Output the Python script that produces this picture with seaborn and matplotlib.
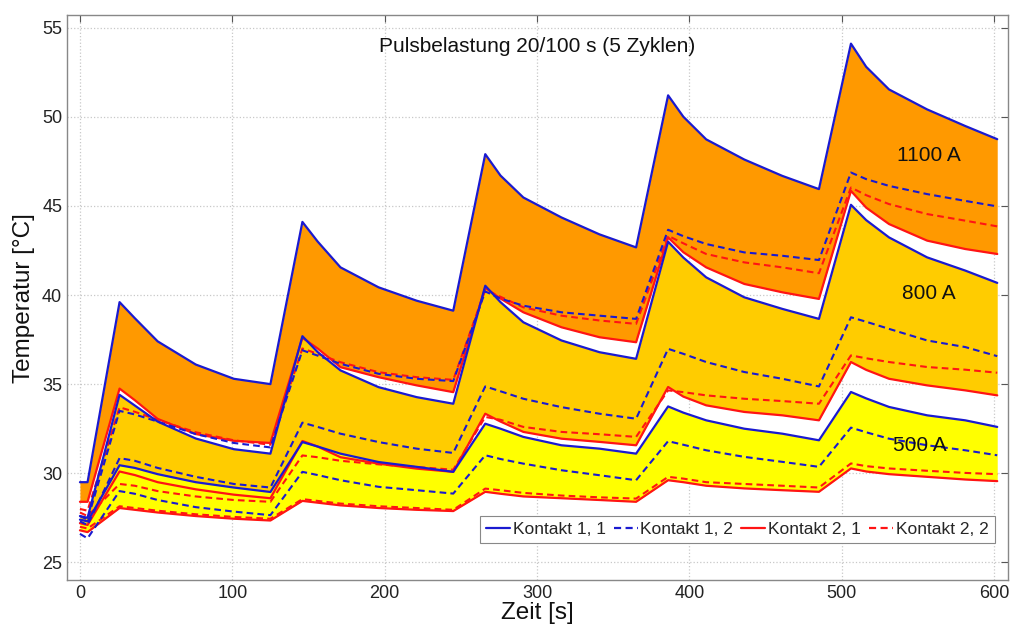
import matplotlib
matplotlib.use("Agg")
import matplotlib.pyplot as plt
import seaborn as sns
from matplotlib.lines import Line2D

# time axis [s]
t = [0, 5, 26, 36, 51, 76, 101, 125, 146, 156, 171, 196, 221, 245, 266, 276, 291, 316,
     341, 365, 386, 396, 411, 436, 461, 485, 506, 516, 531, 556, 581, 602]

# 1100 A
k11_1100 = [29.5, 29.5, 39.6, 38.7, 37.4, 36.1, 35.3, 35.0, 44.1, 43.0, 41.55, 40.43, 39.68, 39.12,
            47.9, 46.7, 45.47, 44.35, 43.4, 42.67, 51.2, 50.0, 48.73, 47.6, 46.68, 45.94,
            54.1, 52.8, 51.53, 50.41, 49.48, 48.74]
k12_1100 = [27.6, 27.4, 33.5, 33.3, 32.9, 32.2, 31.7, 31.45, 36.9, 36.6, 36.14, 35.58, 35.3, 35.17,
            40.2, 39.8, 39.4, 39.03, 38.84, 38.66, 43.66, 43.3, 42.86, 42.39, 42.2, 41.96,
            46.87, 46.5, 46.12, 45.66, 45.28, 44.97]
k22_1100 = [28.0, 27.9, 33.7, 33.45, 33.0, 32.3, 31.85, 31.6, 37.0, 36.7, 36.23, 35.67, 35.39, 35.24,
            40.3, 39.9, 39.31, 38.84, 38.57, 38.38, 43.32, 42.9, 42.3, 41.83, 41.55, 41.22,
            46.03, 45.6, 45.1, 44.54, 44.17, 43.85]
k21_1100 = [28.4, 28.4, 34.75, 34.1, 33.05, 32.2, 31.82, 31.7, 37.6, 37.0, 35.95, 35.39, 34.93, 34.55,
            40.4, 39.8, 39.03, 38.19, 37.63, 37.35, 43.23, 42.4, 41.55, 40.62, 40.15, 39.78,
            45.84, 44.9, 43.98, 43.05, 42.58, 42.3]

# 800 A
k11_800 = [27.6, 27.5, 34.4, 33.8, 32.9, 31.95, 31.35, 31.1, 37.69, 36.8, 35.77, 34.83, 34.27, 33.9,
           40.52, 39.6, 38.47, 37.45, 36.79, 36.42, 42.99, 42.1, 40.99, 39.87, 39.22, 38.66,
           45.06, 44.2, 43.23, 42.11, 41.37, 40.68]
k12_800 = [27.3, 27.1, 30.85, 30.7, 30.3, 29.8, 29.4, 29.2, 32.84, 32.6, 32.22, 31.75, 31.38, 31.14,
           34.87, 34.6, 34.18, 33.71, 33.34, 33.06, 36.98, 36.7, 36.24, 35.68, 35.3, 34.87,
           38.75, 38.5, 38.1, 37.45, 37.08, 36.57]
k22_800 = [27.8, 27.6, 29.4, 29.3, 29.0, 28.7, 28.5, 28.4, 31.0, 30.9, 30.7, 30.5, 30.35, 30.2,
           33.16, 33.0, 32.6, 32.32, 32.19, 32.04, 34.65, 34.55, 34.37, 34.18, 34.05, 33.9,
           36.61, 36.45, 36.24, 35.96, 35.81, 35.64]
k21_800 = [27.2, 27.1, 30.1, 29.9, 29.5, 29.1, 28.8, 28.6, 31.81, 31.5, 30.9, 30.54, 30.26, 30.08,
           33.34, 32.9, 32.32, 31.94, 31.76, 31.57, 34.84, 34.3, 33.81, 33.44, 33.25, 32.97,
           36.24, 35.8, 35.3, 34.93, 34.65, 34.37]

# 500 A
k11_500 = [27.4, 27.3, 30.45, 30.3, 29.95, 29.5, 29.2, 28.95, 31.75, 31.5, 31.1, 30.63, 30.36, 30.08,
           32.78, 32.5, 32.04, 31.57, 31.38, 31.1, 33.75, 33.4, 32.97, 32.5, 32.22, 31.85,
           34.56, 34.2, 33.72, 33.25, 32.97, 32.6]
k12_500 = [26.6, 26.35, 29.0, 28.85, 28.5, 28.1, 27.85, 27.65, 30.08, 29.9, 29.61, 29.24, 29.05, 28.86,
           31.01, 30.8, 30.54, 30.17, 29.89, 29.61, 31.8, 31.6, 31.29, 30.92, 30.64, 30.36,
           32.56, 32.3, 31.94, 31.57, 31.29, 31.01]
k22_500 = [27.0, 26.9, 28.15, 28.05, 27.9, 27.7, 27.55, 27.45, 28.55, 28.45, 28.3, 28.15, 28.05, 27.95,
           29.14, 29.05, 28.9, 28.75, 28.65, 28.58, 29.8, 29.7, 29.5, 29.4, 29.3, 29.2,
           30.55, 30.4, 30.27, 30.14, 30.02, 29.95]
k21_500 = [26.8, 26.7, 28.05, 27.95, 27.8, 27.6, 27.45, 27.35, 28.45, 28.35, 28.2, 28.05, 27.95, 27.88,
           28.96, 28.85, 28.7, 28.6, 28.5, 28.4, 29.61, 29.5, 29.3, 29.15, 29.05, 28.96,
           30.27, 30.1, 29.95, 29.8, 29.65, 29.56]

band_labels = ["1100 A", "800 A", "500 A"]
legend_labels = ["Kontakt 1, 1", "Kontakt 1, 2", "Kontakt 2, 1", "Kontakt 2, 2"]
title = "Pulsbelastung 20/100 s (5 Zyklen)"
x_ticks = [0, 100, 200, 300, 400, 500, 600]
y_ticks = [25, 30, 35, 40, 45, 50, 55]

sns.set_style("white")
plt.rcParams["font.family"] = ["Liberation Sans", "DejaVu Sans"]

BLUE = "#1a1ad0"
RED = "#ff1414"
DASH = (0, (3.2, 2.0))
fills = ["#ff9900", "#ffcc00", "#ffff00"]

fig = plt.figure(figsize=(10.15, 6.3), dpi=100)
ax = fig.add_axes([0.066, 0.079, 0.927, 0.897])

bands = [
    (k11_1100, k12_1100, k21_1100, k22_1100),
    (k11_800, k12_800, k21_800, k22_800),
    (k11_500, k12_500, k21_500, k22_500),
]

for (a11, a12, a21, a22), fc in zip(bands, fills):
    ax.fill_between(t, a21, a11, color=fc, lw=0, zorder=1)

for (a11, a12, a21, a22) in bands:
    sns.lineplot(x=t, y=a22, ax=ax, color=RED, linestyle=DASH, lw=1.5, sort=False,
                 estimator=None, legend=False, zorder=3)
    sns.lineplot(x=t, y=a21, ax=ax, color=RED, lw=1.6, sort=False,
                 estimator=None, legend=False, zorder=3)
    sns.lineplot(x=t, y=a12, ax=ax, color=BLUE, linestyle=DASH, lw=1.5, sort=False,
                 estimator=None, legend=False, zorder=4)
    sns.lineplot(x=t, y=a11, ax=ax, color=BLUE, lw=1.6, sort=False,
                 estimator=None, legend=False, zorder=4)

ax.set_xlim(-8.5, 609)
ax.set_ylim(24.0, 55.7)
ax.set_xticks(x_ticks)
ax.set_yticks(y_ticks)
ax.grid(True, color="#c8c8c8", linestyle=":", linewidth=0.9)
ax.set_axisbelow(True)
ax.tick_params(direction="in", length=5, width=0.8, colors="#555555", labelsize=13,
               labelcolor="#222222", top=True, right=True)
for s in ax.spines.values():
    s.set_color("#888888")
    s.set_linewidth(1.0)

ax.set_xlabel("Zeit [s]", fontsize=17.5, labelpad=0, color="#111111")
ax.set_ylabel("Temperatur [°C]", fontsize=17.5, labelpad=5, color="#111111")

ax.text(300, 53.95, title, ha="center", va="center", fontsize=15, color="#111111", zorder=6)
ax.text(557, 47.8, band_labels[0], ha="center", va="center", fontsize=15, color="#111111", zorder=6)
ax.text(557, 40.07, band_labels[1], ha="center", va="center", fontsize=15, color="#111111", zorder=6)
ax.text(551, 31.57, band_labels[2], ha="center", va="center", fontsize=15, color="#111111", zorder=6)

handles = [
    Line2D([], [], color=BLUE, lw=1.6),
    Line2D([], [], color=BLUE, lw=1.6, linestyle=DASH),
    Line2D([], [], color=RED, lw=1.6),
    Line2D([], [], color=RED, lw=1.6, linestyle=DASH),
]
leg = ax.legend(handles, legend_labels, ncol=4, loc="lower right",
                bbox_to_anchor=(0.995, 0.05), fontsize=12.5, handlelength=1.4,
                handletextpad=0.15, columnspacing=0.45, borderpad=0.35,
                fancybox=False, framealpha=1, edgecolor="#888888")
leg.get_frame().set_linewidth(0.8)
leg.set_zorder(10)

fig.savefig("out.png", dpi=100)
